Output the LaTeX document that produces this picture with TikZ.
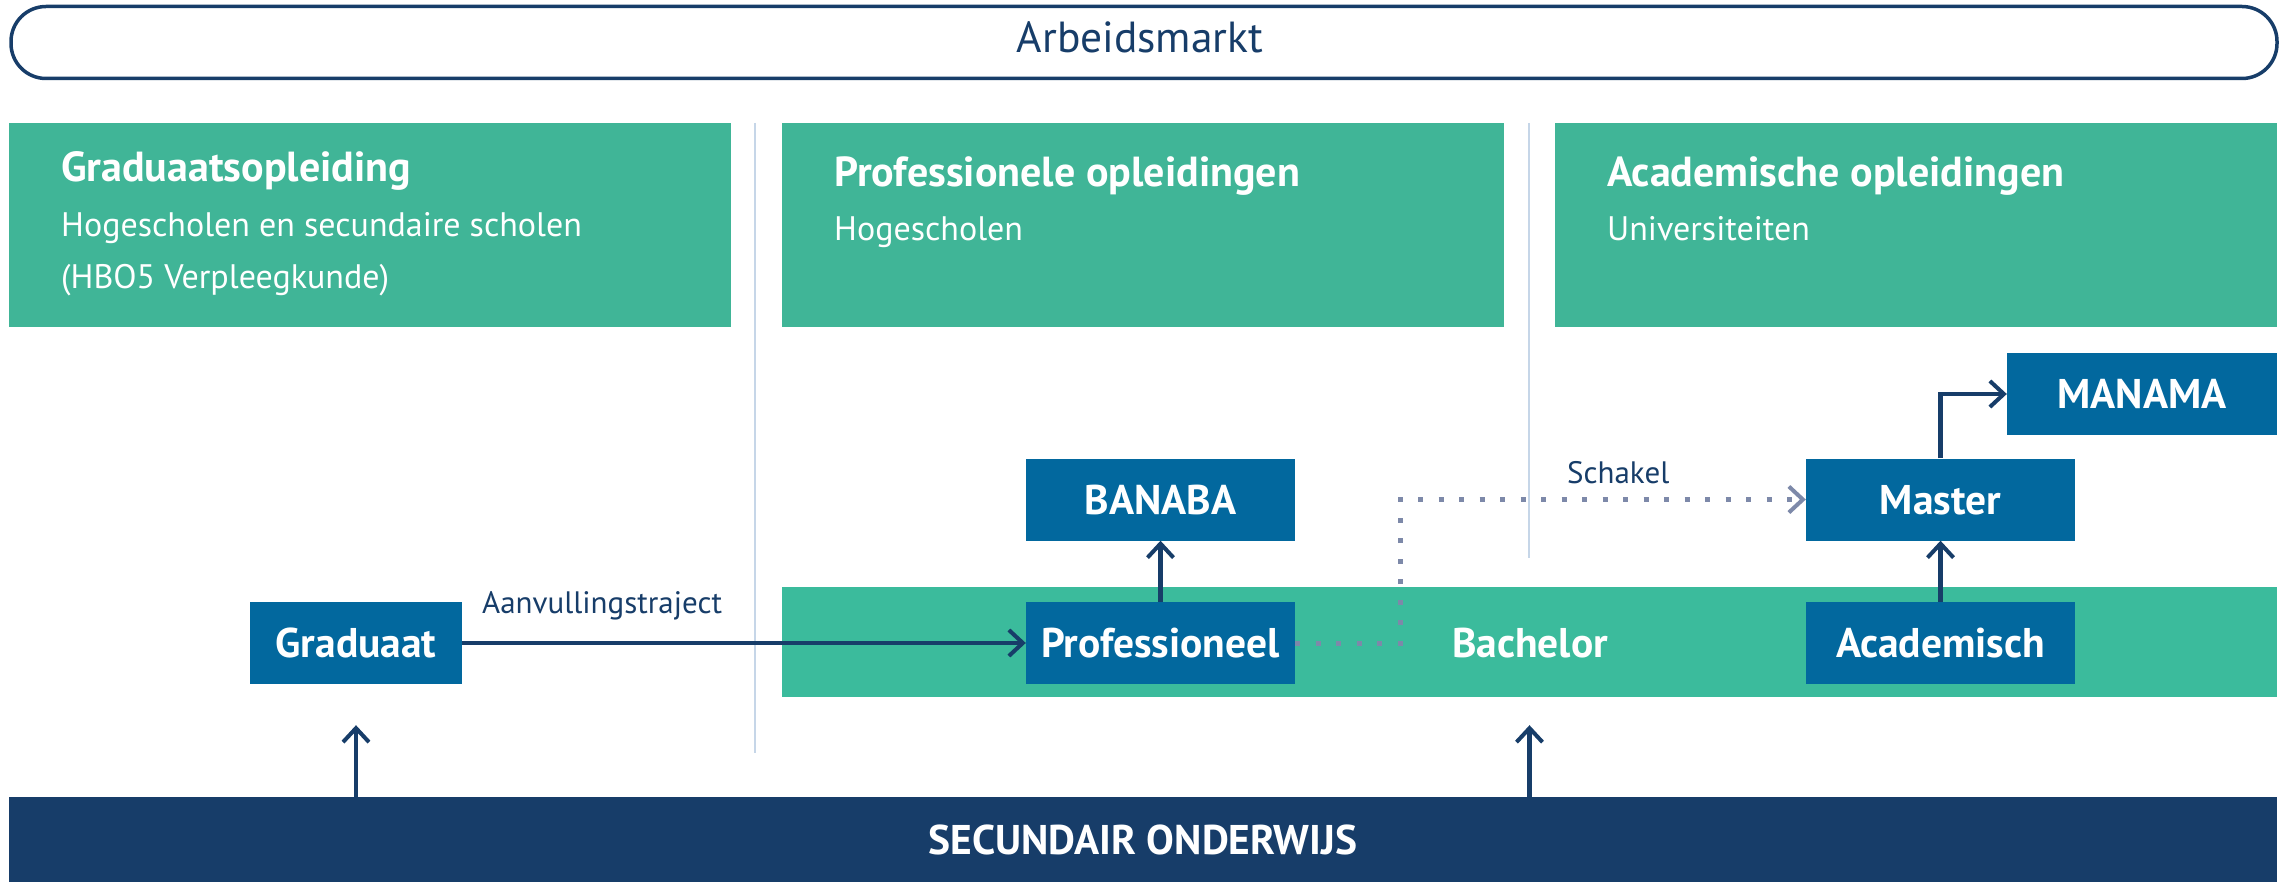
\documentclass[tikz,border=0pt]{standalone}
\usepackage{fontspec}
\setmainfont{PT Sans}
\usetikzlibrary{arrows.meta}
\definecolor{hdr}{HTML}{40B597}
\definecolor{bach}{HTML}{3BBB9C}
\definecolor{boxblue}{HTML}{02689E}
\definecolor{navy}{HTML}{173D69}
\definecolor{dotc}{HTML}{7D89A9}
\definecolor{sepc}{HTML}{C6D6E8}
\newcommand\myfs[1]{\fontsize{#1}{#1}\selectfont}
\begin{document}
\begin{tikzpicture}[x=1pt,y=-1pt,
  hdrbox/.style={fill=hdr, inner sep=0pt, anchor=north west},
  bfont/.style={font=\myfs{41.5}\bfseries, text height=29pt, text depth=0pt},
  bbox/.style={fill=boxblue, text=white, inner sep=0pt, minimum width=269pt, minimum height=82pt, bfont},
  ttl/.style={text=white, anchor=base west, inner sep=0pt, font=\myfs{42}\bfseries},
  sub/.style={text=white, anchor=base west, inner sep=0pt, font=\myfs{34}},
  lbl/.style={text=navy, anchor=base west, inner sep=0pt, font=\myfs{31}},
  sepl/.style={draw=sepc, line width=2pt},
  arr/.style={draw=navy, line width=4.5pt, -{Straight Barb[length=14pt,width=26pt,line width=4pt]}},
  dotl/.style={draw=dotc, line width=5pt, dash pattern=on 5pt off 15.5pt, -{Straight Barb[length=14pt,width=26pt,line width=4pt]}}
]
\useasboundingbox (0,0) rectangle (2290,882);

% top pill
\node[draw=navy, line width=3.5pt, rounded corners=35pt, minimum width=2266pt, minimum height=72pt, inner sep=0pt] (arb) at (1144,42.5) {};
\node[text=navy, font=\myfs{43.5}, anchor=base, inner sep=0pt] (arbt) at (1140,53) {Arbeidsmarkt};

% separators
\draw[sepl] (755,123) -- (755,753);
\draw[sepl] (1529,123) -- (1529,558);

% header boxes
\node[hdrbox, minimum width=722pt, minimum height=204pt] (h1) at (9,123) {};
\node[hdrbox, minimum width=722pt, minimum height=204pt] (h2) at (782,123) {};
\node[hdrbox, minimum width=722pt, minimum height=204pt] (h3) at (1555,123) {};
\node[ttl] (t1) at (61,182) {Graduaatsopleiding};
\node[sub] (s1a) at (61,237) {Hogescholen en secundaire scholen};
\node[sub] (s1b) at (61,289) {(HBO5 Verpleegkunde)};
\node[ttl] (t2) at (834,187) {Professionele opleidingen};
\node[sub] (s2) at (834,241) {Hogescholen};
\node[ttl] (t3) at (1607,187) {Academische opleidingen};
\node[sub] (s3) at (1607,241) {Universiteiten};

% bachelor band
\node[fill=bach, inner sep=0pt, minimum width=1495pt, minimum height=110pt] (bach) at (1529.5,642) {};
\node[text=white, bfont, inner sep=0pt] (bacht) at (1530,643) {Bachelor};

% secundair
\node[fill=navy, inner sep=0pt, minimum width=2268pt, minimum height=85pt, text=white, bfont] (sec) at (1143,839.5) {SECUNDAIR ONDERWIJS};

% blue boxes
\node[bbox, minimum width=212pt] (grad) at (356,643) {Graduaat};
\node[bbox] (prof) at (1160.5,643) {Professioneel};
\node[bbox] (banaba) at (1160.5,499.5) {BANABA};
\node[bbox] (master) at (1940.5,499.5) {Master};
\node[bbox] (acad) at (1940.5,643) {Academisch};
\node[bbox, minimum width=270pt] (manama) at (2142,394) {MANAMA};

% connectors
\draw[arr] (grad.east) -- (prof.west);
\node[lbl] (aanv) at (482,613) {Aanvullingstraject};
\draw[arr] (prof.north) -- (banaba.south);
\draw[arr] (acad.north) -- (master.south);
\draw[arr] (master.north) |- (manama.west);
\draw[dotl] (prof.east) -- ++(105,0) |- (master.west);
\node[lbl] (schakel) at (1567,483) {Schakel};
\draw[arr] (sec.north -| grad.south) -- ([yshift=-41pt]grad.south);
\draw[arr] (sec.north -| bach.south) -- ([yshift=-28pt]bach.south);
\end{tikzpicture}
\end{document}
